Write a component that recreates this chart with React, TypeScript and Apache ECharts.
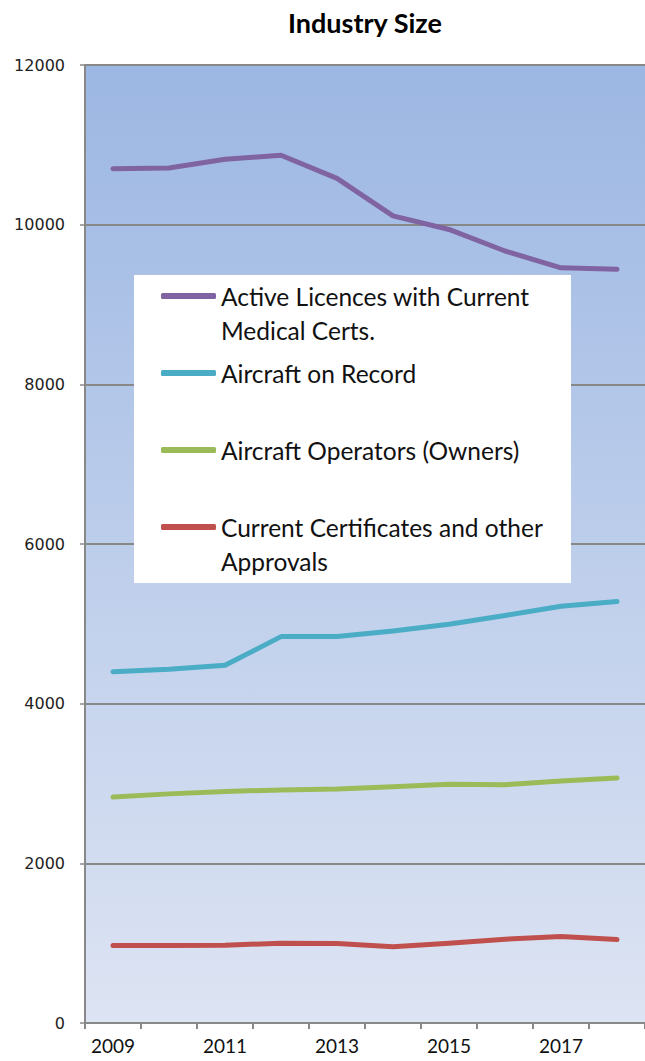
import React, { useEffect, useRef } from "react";
import * as echarts from "echarts";

const years = ["2009", "2010", "2011", "2012", "2013", "2014", "2015", "2016", "2017", "2018"];
const seriesNames = [
  "Active Licences with Current Medical Certs.",
  "Aircraft on Record",
  "Aircraft Operators (Owners)",
  "Current Certificates and other Approvals",
];
const legendLabels = [
  "\nActive Licences with Current\nMedical Certs.",
  "Aircraft on Record",
  "Aircraft Operators (Owners)",
  "\nCurrent Certificates and other\nApprovals",
];
const activeLicences = [10700, 10710, 10820, 10870, 10580, 10110, 9940, 9670, 9460, 9440];
const aircraftOnRecord = [4400, 4430, 4480, 4840, 4840, 4910, 4995, 5105, 5220, 5280];
const aircraftOperators = [2830, 2870, 2900, 2920, 2930, 2960, 2990, 2985, 3030, 3070];
const certificates = [970, 970, 975, 1000, 995, 955, 1000, 1050, 1085, 1045];
const colors = ["#8064A2", "#4BACC6", "#9BBB59", "#C0504D"];

const NARROW = "Lato, 'Open Sans', sans-serif";

export default function App() {
  const ref = useRef<HTMLDivElement>(null);
  useEffect(() => {
    if (!ref.current) return;
    const chart = echarts.init(ref.current, null, { renderer: "svg" });
    const data = [activeLicences, aircraftOnRecord, aircraftOperators, certificates];
    const lineH = 34;
    const legendTops = [245, 356, 433, 476];
    chart.setOption({
      animation: false,
      backgroundColor: "#ffffff",
      title: {
        text: "Industry Size",
        left: 283,
        top: 4,
        textStyle: { fontFamily: NARROW, fontSize: 27, fontWeight: "bold", color: "#000" },
      },
      grid: {
        left: 85,
        top: 65,
        bottom: 38,
        right: -4,
        show: true,
        borderWidth: 0,
        backgroundColor: new echarts.graphic.LinearGradient(0, 0, 0, 1, [
          { offset: 0, color: "#9CB7E3" },
          { offset: 1, color: "#DDE4F3" },
        ]),
      },
      xAxis: {
        type: "category",
        data: years,
        boundaryGap: true,
        axisLine: { show: true, lineStyle: { color: "#888888", width: 2 } },
        axisTick: { show: true, interval: 0, length: 6, lineStyle: { color: "#888888", width: 2 } },
        axisLabel: {
          interval: 1,
          margin: 13,
          fontFamily: NARROW,
          fontSize: 19,
          color: "#111",
        },
        splitLine: { show: false },
      },
      yAxis: {
        type: "value",
        min: 0,
        max: 12000,
        interval: 2000,
        axisLine: { show: true, lineStyle: { color: "#888888", width: 2 } },
        axisTick: { show: true, length: 5, lineStyle: { color: "#888888", width: 1.5 } },
        axisLabel: {
          margin: 20,
          formatter: (v: number) => String(v),
          fontFamily: "'DejaVu Sans', Verdana, sans-serif",
          fontSize: 16,
          color: "#222",
        },
        splitLine: { show: true, lineStyle: { color: "#888888", width: 2 } },
      },
      graphic: [
        {
          type: "rect",
          z: 3,
          shape: { x: 134, y: 275, width: 437, height: 308 },
          style: { fill: "#ffffff" },
        },
      ],
      legend: seriesNames.map((name, i) => ({
        show: true,
        data: [name],
        left: 161,
        top: legendTops[i],
        padding: 0,
        orient: "vertical",
        icon: "roundRect",
        itemWidth: 55,
        itemHeight: 6,
        selectedMode: false,
        z: 5,
        formatter: () => legendLabels[i],
        textStyle: {
          fontFamily: NARROW,
          fontSize: 24.5,
          color: "#111",
          lineHeight: lineH,
        },
      })),
      series: seriesNames.map((name, i) => ({
        name,
        type: "line",
        data: data[i],
        showSymbol: false,
        symbol: "none",
        color: colors[i],
        lineStyle: { width: 5, color: colors[i], cap: "round", join: "round" },
        itemStyle: { color: colors[i] },
        z: 2,
      })),
    });
    return () => chart.dispose();
  }, []);
  return (
    <div
      ref={ref}
      style={{ position: "absolute", left: 0, top: 0, width: 645, height: 1061 }}
    />
  );
}
